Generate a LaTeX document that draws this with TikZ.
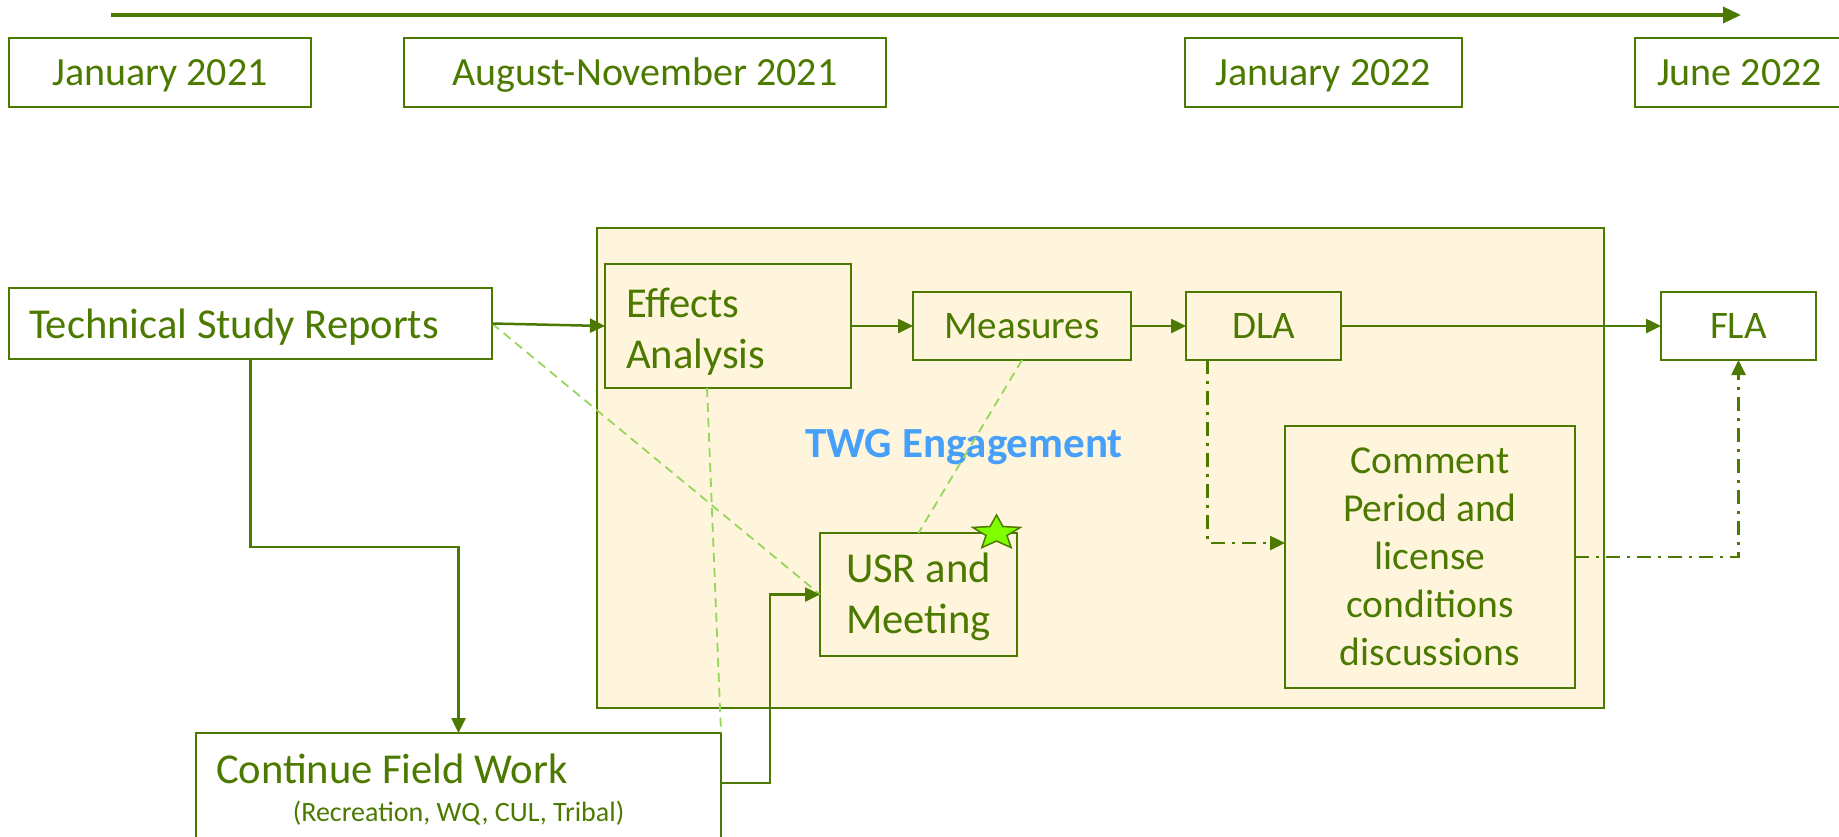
\documentclass[tikz,border=0pt]{standalone}
\usepackage{fontspec}
\setmainfont{Carlito}
\usepackage{tikz}
\usetikzlibrary{arrows.meta,positioning}

\definecolor{fwgreen}{RGB}{76,122,0}
\definecolor{twgfill}{RGB}{255,245,221}
\definecolor{tiegreen}{RGB}{150,214,90}
\definecolor{twgblue}{RGB}{70,160,250}
\definecolor{stargreen}{RGB}{128,255,0}

\begin{document}
\begin{tikzpicture}[x=1pt, y=-1pt, >={Triangle[length=15pt,width=14pt]}]

    \tikzstyle{datebox} = [rectangle, draw=fwgreen, line width=2.5pt, text=fwgreen, minimum height=69pt, inner sep=0pt, outer sep=0pt, text height=28pt, text depth=2pt, font=\fontsize{40}{48}\selectfont]
    \tikzstyle{taskbox} = [rectangle, draw=fwgreen, line width=2.5pt, text=fwgreen, inner sep=0pt, outer sep=0pt, font=\fontsize{42.6}{51}\selectfont]
    \tikzstyle{flow} = [draw=fwgreen, line width=2.5pt, ->]
    \tikzstyle{dashflow} = [draw=fwgreen, line width=2.5pt, ->, dash pattern=on 14pt off 7pt on 3pt off 7pt]
    \tikzstyle{tie} = [draw=tiegreen, line width=1.8pt, dash pattern=on 9pt off 6pt]

    \useasboundingbox (0,0) rectangle (1839,836);
    \clip (0,0) rectangle (1839,836);

    % timeline
    \coordinate (t0) at (111,15);
    \coordinate (t1) at (1741,15);
    \draw[flow, line width=3.5pt, -{Triangle[length=18pt,width=16pt]}] (t0) -- (t1);

    \node (jan21)  [datebox, minimum width=302pt]                   at (160,72.5) {January 2021};
    \node (augnov) [datebox, minimum width=482pt, right=93pt of jan21]           {August-November 2021};
    \node (jan22)  [datebox, minimum width=277pt, right=299pt of augnov]         {January 2022};
    \node (jun22)  [datebox, minimum width=209pt, right=173pt of jan22]          {June 2022};

    % TWG panel
    \node (twg) [rectangle, draw=fwgreen, fill=twgfill, line width=2pt, minimum width=1007pt, minimum height=480pt, inner sep=0pt] at (1100.5,468) {};
    \node (twglabel) [text=twgblue, font=\fontsize{43}{51}\selectfont\bfseries, anchor=base] at (964,457) {TWG Engagement};

    \node (tsr)      [taskbox, minimum height=71pt, text width=443pt, inner xsep=20pt, align=flush left, text height=31pt, text depth=2pt] at (250.5,323.5) {Technical Study Reports};
    \node (effects)  [taskbox, minimum height=124pt, text width=204pt, inner xsep=21pt, align=flush left, text height=35pt, text depth=53pt] at (728,326) {Effects\\Analysis};
    \node (measures) [taskbox, minimum width=218pt, minimum height=68pt, font=\fontsize{39}{47}\selectfont, right=62pt of effects] {Measures};
    \node (dla)      [taskbox, minimum width=155pt, minimum height=68pt, font=\fontsize{39}{47}\selectfont, right=55pt of measures] {DLA};
    \node (fla)      [taskbox, minimum width=155pt, minimum height=68pt, font=\fontsize{39}{47}\selectfont, right=320pt of dla] {FLA};
    \node (usr)      [taskbox, minimum width=197pt, minimum height=123pt, align=center, text height=82pt, text depth=5pt] at (918.5,594.5) {USR and\\Meeting};
    \node (comment)  [taskbox, minimum width=290pt, minimum height=262pt, align=center, font=\fontsize{39.6}{48}\selectfont] at (1430,557) {Comment\\Period and\\license\\conditions\\discussions};
    \node (field)    [taskbox, anchor=north west, text width=485pt, inner xsep=20pt, inner ysep=0pt, text height=50pt, text depth=90pt, align=flush left] at (196,733) {Continue Field Work};
    \node (fieldnote) [text=fwgreen, font=\fontsize{28}{34}\selectfont, anchor=base, yshift=-38pt] at (field.base) {(Recreation, WQ, CUL, Tribal)};

    % star on USR
    \draw[fill=stargreen, draw=fwgreen, line width=1.5pt] ([xshift=-20.5pt]usr.north east)
        +(-90:25 and 18) -- +(-54:11 and 8) -- +(-18:25 and 18) -- +(18:11 and 8) -- +(54:25 and 18)
        -- +(90:11 and 8) -- +(126:25 and 18) -- +(162:11 and 8) -- +(198:25 and 18) -- +(234:11 and 8) -- cycle;

    % light ties
    \draw[tie] (tsr.east) -- (usr.west);
    \draw[tie] ([xshift=-21pt]effects.south) -- (field.north east);
    \draw[tie] (measures.south) -- (usr.north);

    \draw[flow] (tsr.east) -- (effects.west);
    \draw[flow] (effects.east) -- (measures.west);
    \draw[flow] (measures.east) -- (dla.west);
    \draw[flow] (dla.east) -- (fla.west);
    \draw[flow] (tsr.south) -- ++(0,188) -| (field.north);
    \draw[flow] (field.base east) -- ++(49,0) |- (usr.west);

    \draw[dashflow] ([xshift=21.5pt]dla.south west) |- ([yshift=14pt]comment.west);
    \draw[dashflow] (comment.east) -| (fla.south);
\end{tikzpicture}
\end{document}
